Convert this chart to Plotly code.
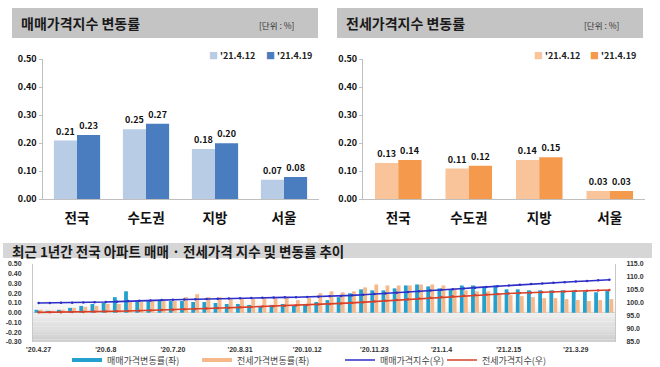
import plotly.graph_objects as go
import pandas as pd

W, H = 660, 367
def px(x): return x / W
def py(y): return 1 - y / H

FONT = "Noto Sans CJK KR"
NUMFONT = "Liberation Sans"

# ---- top charts data ----
REGIONS = ["전국", "수도권", "지방", "서울"]
SALE_0412 = [0.21, 0.25, 0.18, 0.07]
SALE_0419 = [0.23, 0.27, 0.20, 0.08]
JEONSE_0412 = [0.13, 0.11, 0.14, 0.03]
JEONSE_0419 = [0.14, 0.12, 0.15, 0.03]
TOP_TICKS = [0.0, 0.1, 0.2, 0.3, 0.4, 0.5]

# ---- bottom chart data (weekly, '20.4.27 ~ '21.4.19) ----
WEEKS = [f"'{d.strftime('%y')}.{d.month}.{d.day}"
         for d in pd.date_range("2020-04-27", periods=52, freq="7D")]
TICK_WEEKS = ["'20.4.27", "'20.6.8", "'20.7.20", "'20.8.31", "'20.10.12",
              "'20.11.23", "'21.1.4", "'21.2.15", "'21.3.29"]
SALE_CHG = [0.03, 0.02, 0.03, 0.05, 0.07, 0.09, 0.10, 0.16, 0.22, 0.12,
            0.12, 0.13, 0.12, 0.12, 0.11, 0.11, 0.10, 0.09, 0.09, 0.08,
            0.07, 0.08, 0.09, 0.07, 0.09, 0.11, 0.13, 0.16, 0.20, 0.24,
            0.23, 0.23, 0.25, 0.28, 0.29, 0.27, 0.25, 0.24, 0.28, 0.28,
            0.27, 0.28, 0.24, 0.24, 0.23, 0.23, 0.23, 0.23, 0.23, 0.22,
            0.21, 0.23]
JEONSE_CHG = [0.03, 0.02, 0.03, 0.05, 0.06, 0.07, 0.09, 0.09, 0.11, 0.11,
              0.12, 0.12, 0.12, 0.16, 0.19, 0.16, 0.16, 0.14, 0.14, 0.14,
              0.15, 0.15, 0.16, 0.13, 0.15, 0.20, 0.22, 0.21, 0.22, 0.26,
              0.29, 0.28, 0.28, 0.28, 0.29, 0.29, 0.28, 0.25, 0.23, 0.22,
              0.22, 0.20, 0.18, 0.17, 0.16, 0.15, 0.15, 0.14, 0.13, 0.12,
              0.13, 0.14]
SALE_IDX = [100.00, 100.02, 100.05, 100.10, 100.17, 100.26, 100.36, 100.52, 100.74, 100.86,
            100.98, 101.11, 101.23, 101.35, 101.46, 101.57, 101.67, 101.76, 101.85, 101.93,
            102.00, 102.08, 102.17, 102.24, 102.33, 102.44, 102.57, 102.73, 102.94, 103.19,
            103.43, 103.67, 103.93, 104.22, 104.52, 104.80, 105.06, 105.31, 105.60, 105.90,
            106.19, 106.49, 106.75, 107.01, 107.26, 107.50, 107.75, 108.00, 108.25, 108.49,
            108.72, 108.97]
JEONSE_IDX = [96.40, 96.42, 96.45, 96.50, 96.56, 96.63, 96.72, 96.81, 96.92, 97.03,
              97.15, 97.27, 97.39, 97.55, 97.73, 97.89, 98.05, 98.19, 98.33, 98.47,
              98.62, 98.77, 98.93, 99.06, 99.21, 99.41, 99.63, 99.84, 100.06, 100.32,
              100.61, 100.89, 101.17, 101.45, 101.74, 102.03, 102.32, 102.57, 102.81, 103.03,
              103.26, 103.46, 103.65, 103.82, 103.99, 104.15, 104.30, 104.45, 104.59, 104.71,
              104.85, 105.00]
LEFT_TICKS = [0.5, 0.4, 0.3, 0.2, 0.1, 0.0, -0.1, -0.2, -0.3]
RIGHT_TICKS = [115, 110, 105, 100, 95, 90, 85]

fig = go.Figure()

def top_bar(x, y, color, xa, ya, offset, width):
    fig.add_trace(go.Bar(
        x=x, y=y, xaxis=xa, yaxis=ya, marker=dict(color=color, line=dict(width=0)),
        width=width, offset=offset, showlegend=False,
        text=[f"{v:.2f}" for v in y], textposition="outside",
        textfont=dict(family=FONT, size=9, color="#111111", weight="bold"),
        cliponaxis=False, hoverinfo="skip"))

top_bar(REGIONS, SALE_0412, "#b8cce6", "x", "y", -0.335, 0.335)
top_bar(REGIONS, SALE_0419, "#4a7dbf", "x", "y", 0.0, 0.335)
top_bar(REGIONS, JEONSE_0412, "#f9c49a", "x2", "y2", -0.33, 0.33)
top_bar(REGIONS, JEONSE_0419, "#f59a4c", "x2", "y2", 0.0, 0.33)

# bottom bars and index lines
fig.add_trace(go.Bar(x=WEEKS, y=SALE_CHG, xaxis="x3", yaxis="y3", width=0.34, offset=-0.36,
                     marker=dict(color="#23a0cd", line=dict(width=0)),
                     showlegend=False, name="매매가격변동률(좌)"))
fig.add_trace(go.Bar(x=WEEKS, y=JEONSE_CHG, xaxis="x3", yaxis="y3", width=0.34, offset=0.0,
                     marker=dict(color="#f6b98b", line=dict(width=0)),
                     showlegend=False, name="전세가격변동률(좌)"))
fig.add_trace(go.Scatter(x=WEEKS, y=SALE_IDX, xaxis="x3", yaxis="y4", mode="lines+markers",
                         line=dict(color="#2e2ec8", width=1.6), marker=dict(size=2.5, color="#2e2ec8"),
                         showlegend=False, name="매매가격지수(우)"))
fig.add_trace(go.Scatter(x=WEEKS, y=JEONSE_IDX, xaxis="x3", yaxis="y4", mode="lines+markers",
                         line=dict(color="#d8402a", width=1.6), marker=dict(size=2.5, color="#d8402a"),
                         showlegend=False, name="전세가격지수(우)"))

# legend entries for bottom chart (one legend per entry, placed like the reference)
LEG = [("매매가격변동률(좌)", "#23a0cd", 4, "legend", 67),
       ("전세가격변동률(좌)", "#f6b98b", 4, "legend2", 197),
       ("매매가격지수(우)", "#2e2ec8", 1.6, "legend3", 340),
       ("전세가격지수(우)", "#d8402a", 1.6, "legend4", 442)]
legend_layout = {}
for name, color, w, lg, lx in LEG:
    fig.add_trace(go.Scatter(x=[None], y=[None], xaxis="x3", yaxis="y3", mode="lines",
                             line=dict(color=color, width=w), name=name, showlegend=True,
                             legend=lg))
    legend_layout[lg] = dict(orientation="h", x=px(lx), y=py(360), xanchor="left", yanchor="middle",
                             font=dict(family=FONT, size=9, color="#444444"),
                             bgcolor="rgba(0,0,0,0)", itemwidth=30)

shapes = []
# title boxes
shapes.append(dict(type="rect", xref="paper", yref="paper", x0=px(12), x1=px(318), y0=py(38), y1=py(8),
                   fillcolor="#c4c4c4", line=dict(width=0), layer="below"))
shapes.append(dict(type="rect", xref="paper", yref="paper", x0=px(337), x1=px(643), y0=py(38), y1=py(8),
                   fillcolor="#c4c4c4", line=dict(width=0), layer="below"))
shapes.append(dict(type="rect", xref="paper", yref="paper", x0=px(3), x1=px(652), y0=py(258), y1=py(243),
                   fillcolor="#d6d6d6", line=dict(width=0), layer="below"))
# gradient background of bottom plot area
n = 16
top_v, bot_v = 0.12, -0.30
for k in range(n):
    y1 = top_v - (top_v - bot_v) * k / n
    y0 = top_v - (top_v - bot_v) * (k + 1) / n
    g = int(253 - (253 - 208) * (k + 1) / n)
    shapes.append(dict(type="rect", xref="x3 domain", yref="y3", x0=0, x1=1, y0=y0, y1=y1,
                       fillcolor=f"rgb({g},{g},{g})", line=dict(width=0), layer="below"))
fig.update_layout(shapes=shapes)

ann = []
ann.append(dict(text="<b>매매가격지수 변동률</b>", x=px(19), y=py(23), xref="paper", yref="paper",
                xanchor="left", yanchor="middle", showarrow=False,
                font=dict(family=FONT, size=14, color="#1a1a1a")))
ann.append(dict(text="<b>전세가격지수 변동률</b>", x=px(344), y=py(23), xref="paper", yref="paper",
                xanchor="left", yanchor="middle", showarrow=False,
                font=dict(family=FONT, size=14, color="#1a1a1a")))
for xc in (276, 601):
    ann.append(dict(text="[단위 : %]", x=px(xc), y=py(25), xref="paper", yref="paper",
                    xanchor="center", yanchor="middle", showarrow=False,
                    font=dict(family=FONT, size=8.5, color="#333333")))
# top legends
for xs, color, label in [(207, "#b8cce6", "'21.4.12"), (264, "#4a7dbf", "'21.4.19"),
                         (532, "#f9c49a", "'21.4.12"), (588, "#f59a4c", "'21.4.19")]:
    ann.append(dict(text=f"<span style='color:{color}'>■</span> <b>{label}</b>", x=px(xs), y=py(55),
                    xref="paper", yref="paper", xanchor="left", yanchor="middle", showarrow=False,
                    font=dict(family=FONT, size=9, color="#222222")))
ann.append(dict(text="<b>최근 1년간 전국 아파트 매매 · 전세가격 지수 및 변동률 추이</b>", x=px(10), y=py(250.5),
                xref="paper", yref="paper", xanchor="left", yanchor="middle", showarrow=False,
                font=dict(family=FONT, size=13.5, color="#1a1a1a")))
fig.update_layout(annotations=ann)

axis_font = dict(family=FONT, size=9, color="#111111", weight="bold")
cat_font = dict(family=FONT, size=13.5, color="#111111", weight="bold")
small_font = dict(family=NUMFONT, size=7, color="#333333", weight="bold")

top_y = dict(range=[0, 0.5], tickvals=TOP_TICKS, ticktext=[f"{v:.2f}" for v in TOP_TICKS],
             ticks="outside", ticklen=3, tickcolor="#bfbfbf", showline=True, linecolor="#bfbfbf",
             showgrid=False, zeroline=False, tickfont=axis_font, domain=[py(199.3), py(59.3)],
             fixedrange=True, automargin=False)
top_x = dict(showline=True, linecolor="#bfbfbf", ticks="", showgrid=False, tickfont=cat_font,
             ticklabelstandoff=6, fixedrange=True, automargin=False)

fig.update_layout(
    width=W, height=H, margin=dict(l=0, r=0, t=0, b=0, autoexpand=False),
    paper_bgcolor="white", plot_bgcolor="rgba(0,0,0,0)",
    barmode="overlay", bargap=0.3,
    xaxis=dict(top_x, domain=[px(42.5), px(318.5)], anchor="y"),
    yaxis=dict(top_y, anchor="x"),
    xaxis2=dict(top_x, domain=[px(363), px(645)], anchor="y2"),
    yaxis2=dict(top_y, anchor="x2"),
    xaxis3=dict(domain=[px(33), px(615)], anchor="y3", type="category", range=[-0.5, 51.5],
                tickvals=TICK_WEEKS, ticktext=TICK_WEEKS, ticks="", showline=False, showgrid=False,
                tickfont=small_font, ticklabelstandoff=2, fixedrange=True, automargin=False),
    yaxis3=dict(domain=[py(342), py(264)], anchor="x3", range=[-0.3, 0.5], tickvals=LEFT_TICKS,
                ticktext=[f"{v:.2f}" if v >= 0 else f"-{abs(v):.2f}" for v in LEFT_TICKS],
                showline=True, linecolor="#c8c8c8", ticks="", showgrid=False,
                zeroline=True, zerolinecolor="#d4d4d4", zerolinewidth=1, tickfont=small_font,
                ticklabelstandoff=9, fixedrange=True, automargin=False),
    yaxis4=dict(overlaying="y3", side="right", anchor="x3", range=[85, 115], tickvals=RIGHT_TICKS,
                ticktext=[f"{v:.1f}" for v in RIGHT_TICKS], showline=True, linecolor="#c8c8c8",
                ticks="", showgrid=False, zeroline=False, tickfont=small_font,
                ticklabelstandoff=9, fixedrange=True, automargin=False),
    showlegend=True,
    **legend_layout,
)

fig.write_html("out.html", config={"displayModeBar": False},
               post_script="document.body.style.margin='0px';")
